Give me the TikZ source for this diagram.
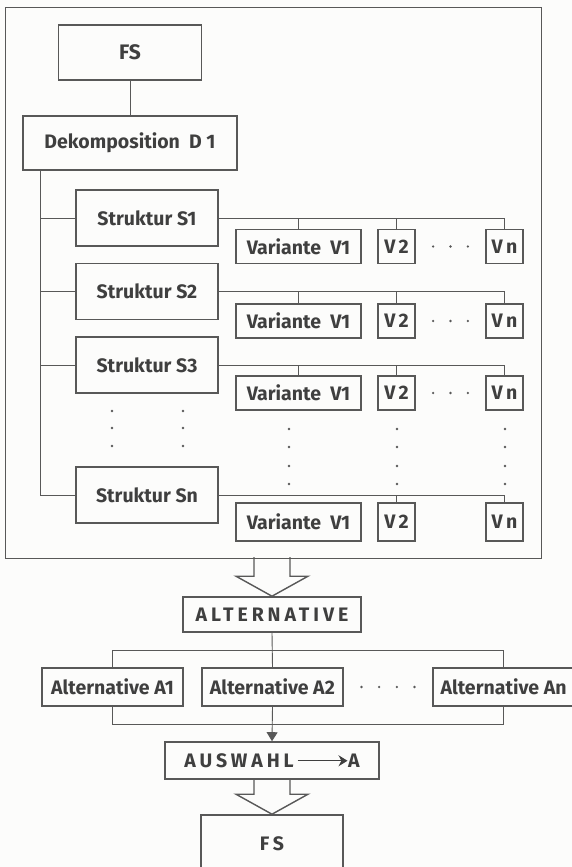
\documentclass[tikz,border=0pt]{standalone}
\usepackage{fontspec}
\setmainfont{Fira Sans}
\usetikzlibrary{arrows.meta,calc}
\definecolor{ink}{HTML}{3F3F3F}
\definecolor{frame}{HTML}{585858}
\definecolor{paper}{HTML}{FCFCFB}

\begin{document}
\begin{tikzpicture}[x=1pt,y=-1pt,
  every node/.style={text=ink,font=\bfseries\fontsize{19.5}{20}\selectfont,inner sep=0pt},
  box/.style={draw=frame,line width=1.6pt,minimum height=#1},
  box/.default=35,
  link/.style={draw=frame,line width=.9pt},
  hollow/.style={draw=frame,line width=1.4pt,line join=miter},
  spaced/.style={font=\bfseries\fontsize{19.5}{20}\selectfont\addfontfeature{LetterSpace=20}},
  dot/.style={fill=frame}]

\clip (0,0) rectangle (572,867);
\fill[paper] (0,0) rectangle (572,867);

% Decomposition of the function structure into variants
\draw[link] (5,7) rectangle (541,558);
\node[box=55,minimum width=143,font=\bfseries\fontsize{21}{21}\selectfont] (top) at (130,52.5) {FS};
\node[box=54,minimum width=214] (dek) at (130,143) {Dekomposition\ \ D 1};
\draw[link] (top) -- (dek);

\foreach \n/\y/\t in {1/218/S1,2/291.5/S2,3/365/S3,4/495/Sn}
  \node[box=56,minimum width=142] (s\n) at (147,\y) {Struktur \t};

\foreach \n/\y/\h in {1/246.5/34,2/321/34,3/393/34,4/522/38} {
  \node[box=\h,minimum width=125] (v\n a) at (298.5,\y) {Variante\ \ V1};
  \node[box=\h,minimum width=37] (v\n b) at (396.5,\y) {V\,2};
  \node[box=\h,minimum width=37] (v\n c) at (504.5,\y) {V\,n};
}

\coordinate (trunk) at ($(dek.south west)+(18,0)$);
\draw[link] (trunk) |- (s4.west);
\foreach \n in {1,2,3} {
  \draw[link] (trunk |- s\n.west) -- (s\n.west);
  \draw[link] (s\n.east) -| (v\n c.north);
  \draw[link] (v\n a.north) -- (v\n a.north |- s\n.east);
  \draw[link] (v\n b.north) -- (v\n b.north |- s\n.east);
  \foreach \k in {1,2,3}
    \fill[dot] ($(v\n b.east)!\k/4!(v\n c.west)$) circle (1.3);
}
\draw[link] (s4.east) -| (v4c.north);
\draw[link] (v4b.north) -- (v4b.north |- s4.east);

% continuation dots
\foreach \x in {112,183} \foreach \y in {411,428,446}
  \fill[dot] (\x,\y) circle (1.3);
\foreach \x in {289,397,505} \foreach \y in {429,447,466,484}
  \fill[dot] (\x,\y) circle (1.3);

% Selection among the alternatives
\node[box=35,minimum width=178,spaced] (alt) at (272,614.5) {ALTERNATIVE};
\draw[hollow] ($(alt.north)+(-18,-39)$) -- ++(0,19) -- ++(-18,0) -- (alt.north)
  -- ++(36,-20) -- ++(-18,0) -- ++(0,-19);

\node[box=38,minimum width=141] (a1) at (112.5,687) {Alternative\ A1};
\node[box=38,minimum width=141] (a2) at (272.5,687) {Alternative\ A2};
\node[box=38,minimum width=141] (an) at (503.5,687) {Alternative\ An};
\foreach \k in {1,2,3,4}
  \fill[dot] ($(a2.east)!\k/5!(an.west)$) circle (1.3);

\coordinate (above) at (0,650);
\coordinate (below) at (0,724);
\draw[link] (a1.north) -- (a1.north |- above) -- (an.north |- above) -- (an.north);
\draw[link] (a1.south) -- (a1.south |- below) -- (an.south |- below) -- (an.south);
\draw[link] (alt.south) -- (a2.north);

\node[box=37,minimum width=214,spaced] (ausw) at (272,760.5)
  {AUSWAHL\,\tikz[baseline=-6.5pt]\draw[draw=ink,line width=1.1pt,-{Stealth[length=9pt,width=11pt]}] (0pt,0pt) -- (50pt,0pt);A};
\draw[link,-{Triangle[length=9pt,width=11pt]}] (a2.south) -- (ausw.north);

\node[box=58,minimum width=142,spaced] (bot) at (272,844) {FS};
\draw[hollow] ($(bot.north)+(-18,-36)$) -- ++(0,16) -- ++(-18,0) -- (bot.north)
  -- ++(36,-20) -- ++(-18,0) -- ++(0,-16);
\end{tikzpicture}
\end{document}
